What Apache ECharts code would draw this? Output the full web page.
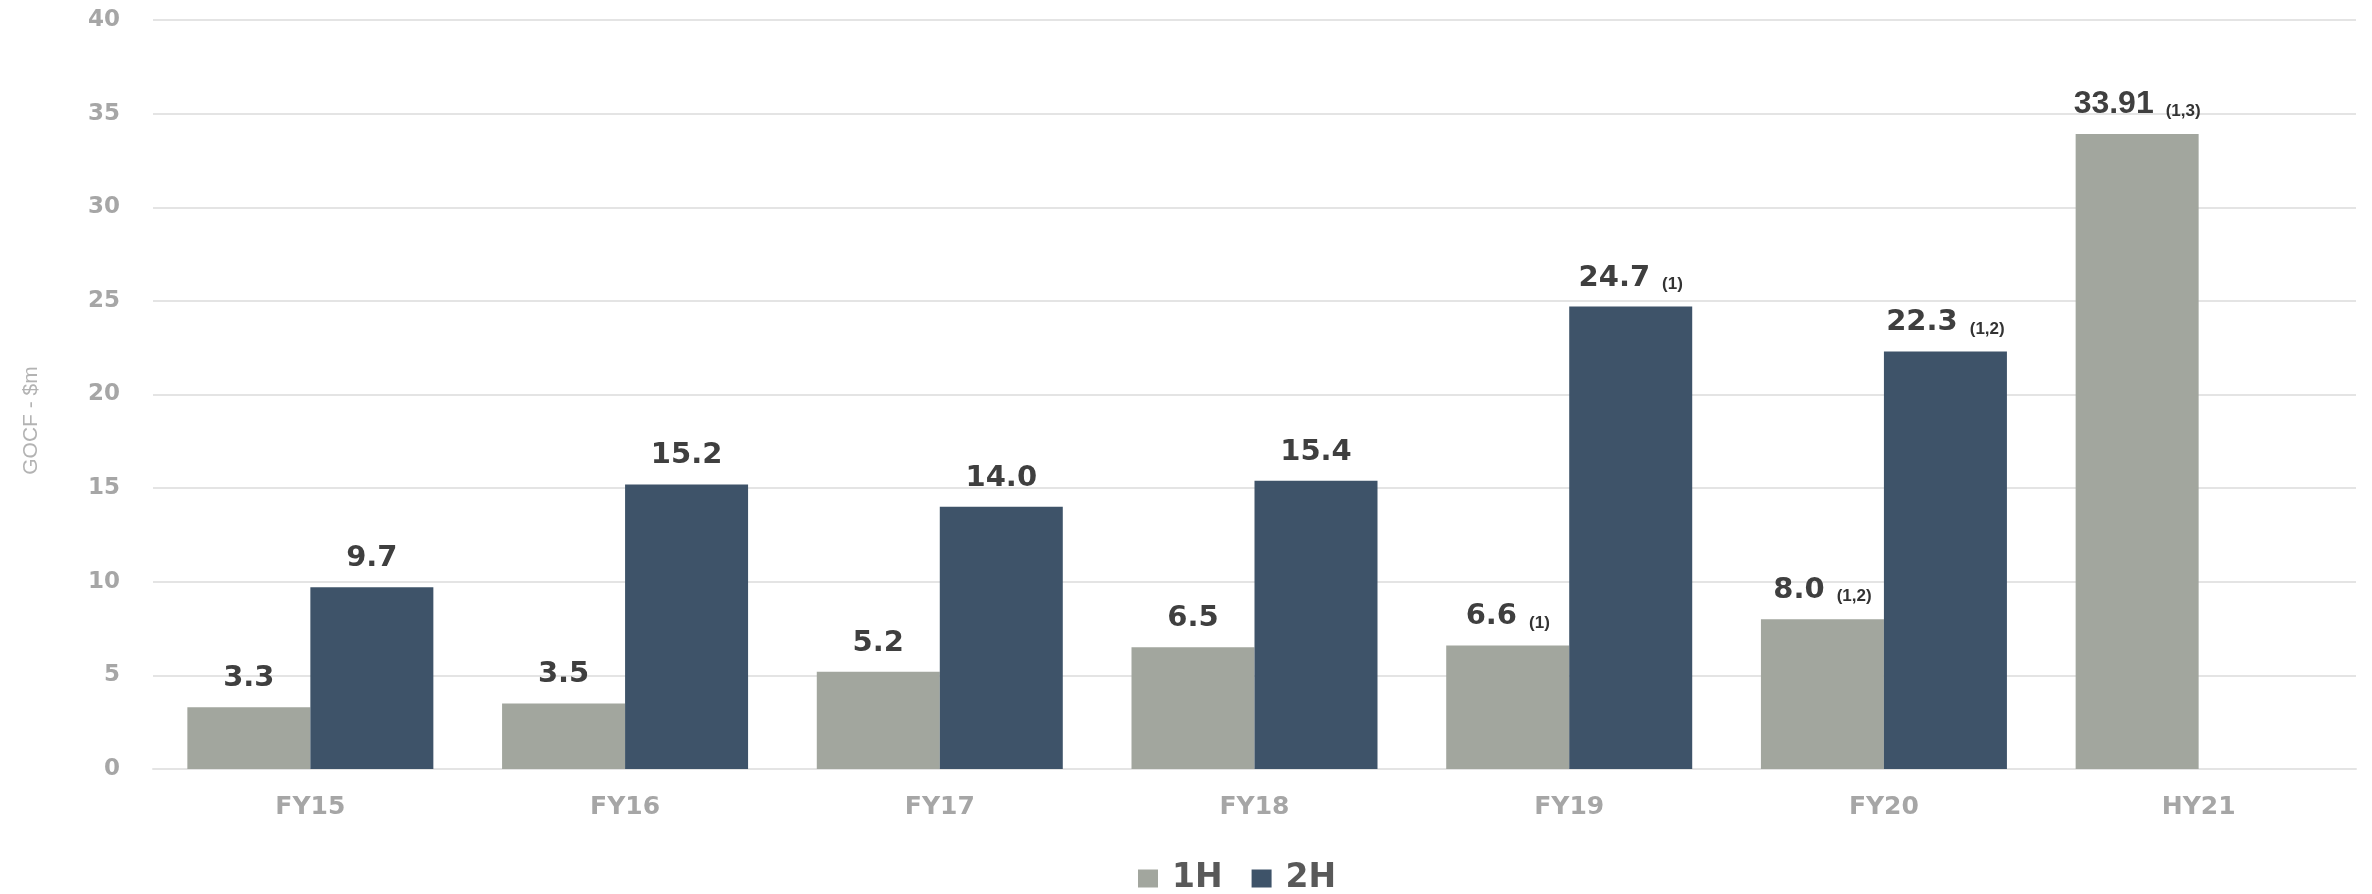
<!DOCTYPE html>
<html>
<head>
<meta charset="utf-8">
<script src="https://cdn.jsdelivr.net/npm/echarts@6/dist/echarts.min.js"></script>
<style>html,body{margin:0;padding:0;background:#fff;}#c{width:2372px;height:894px;}</style>
</head>
<body>
<div id="c"></div>
<script>
const categories = ['FY15', 'FY16', 'FY17', 'FY18', 'FY19', 'FY20', 'HY21'];
const seriesNames = ['1H', '2H'];
const values1H = [3.3, 3.5, 5.2, 6.5, 6.6, 8.0, 33.91];
const values2H = [9.7, 15.2, 14.0, 15.4, 24.7, 22.3, null];
const labels1H = ['3.3', '3.5', '5.2', '6.5', '6.6', '8.0', '33.91'];
const labels2H = ['9.7', '15.2', '14.0', '15.4', '24.7', '22.3', ''];
const notes1H = ['', '', '', '', '(1)', '(1,2)', '(1,3)'];
const notes2H = ['', '', '', '', '(1)', '(1,2)', ''];
const yTicks = [0, 5, 10, 15, 20, 25, 30, 35, 40];
const yAxisTitle = 'GOCF - $m';

const rich = {
  v: { fontFamily: 'DejaVu Sans', fontWeight: 'bold', fontSize: 29, color: '#3f3f3f', verticalAlign: 'bottom', lineHeight: 34 },
  n: { fontFamily: 'Liberation Sans', fontWeight: 'bold', fontSize: 32, color: '#3f3f3f', verticalAlign: 'bottom', lineHeight: 34 },
  f: { fontFamily: 'Liberation Sans', fontWeight: 'bold', fontSize: 17, color: '#333333', verticalAlign: 'bottom', lineHeight: 30, padding: [0, 0, 0, 12] }
};
function makeLabel(labels, notes) {
  return function (p) {
    const i = p.dataIndex;
    if (!labels[i]) return '';
    const style = labels[i].length > 4 ? 'n' : 'v';
    let s = '{' + style + '|' + labels[i] + '}';
    if (notes[i]) s += '{f|' + notes[i] + '}';
    return s;
  };
}

const chart = echarts.init(document.getElementById('c'), null, { renderer: 'canvas' });
chart.setOption({
  animation: false,
  backgroundColor: '#ffffff',
  grid: { left: 153, right: 16, top: 20, bottom: 125, containLabel: false },
  legend: {
    data: seriesNames,
    left: 1133,
    top: 857,
    itemWidth: 20,
    itemHeight: 18,
    itemGap: 29,
    icon: 'rect',
    textStyle: { fontFamily: 'DejaVu Sans', fontWeight: 'bold', fontSize: 33, color: '#595959', padding: [0, 0, 0, 9] }
  },
  xAxis: {
    type: 'category',
    data: categories,
    axisLine: { show: true, lineStyle: { color: '#e4e4e4', width: 2 } },
    axisTick: { show: false },
    axisLabel: { fontFamily: 'DejaVu Sans', fontWeight: 'bold', fontSize: 25, color: '#a6a6a6', margin: 26 }
  },
  yAxis: {
    type: 'value',
    min: yTicks[0],
    max: yTicks[yTicks.length - 1],
    interval: yTicks[1] - yTicks[0],
    name: yAxisTitle,
    nameLocation: 'middle',
    nameGap: 111,
    nameRotate: 90,
    nameTextStyle: { fontFamily: 'Liberation Sans', fontSize: 21, color: '#b3b3b3', padding: [0, 52, 0, 0] },
    axisLine: { show: false },
    axisTick: { show: false },
    splitLine: { lineStyle: { color: '#e4e4e4', width: 2 } },
    axisLabel: { fontFamily: 'DejaVu Sans', fontWeight: 'bold', fontSize: 23, color: '#a6a6a6', margin: 33 }
  },
  series: [
    {
      name: seriesNames[0],
      type: 'bar',
      data: values1H,
      barWidth: 123,
      barGap: '0%',
      itemStyle: { color: '#a2a69e' },
      label: { show: true, position: 'top', distance: 14, formatter: makeLabel(labels1H, notes1H), rich: rich }
    },
    {
      name: seriesNames[1],
      type: 'bar',
      data: values2H,
      barWidth: 123,
      barGap: '0%',
      itemStyle: { color: '#3e5369' },
      label: { show: true, position: 'top', distance: 14, formatter: makeLabel(labels2H, notes2H), rich: rich }
    }
  ]
});
</script>
</body>
</html>
